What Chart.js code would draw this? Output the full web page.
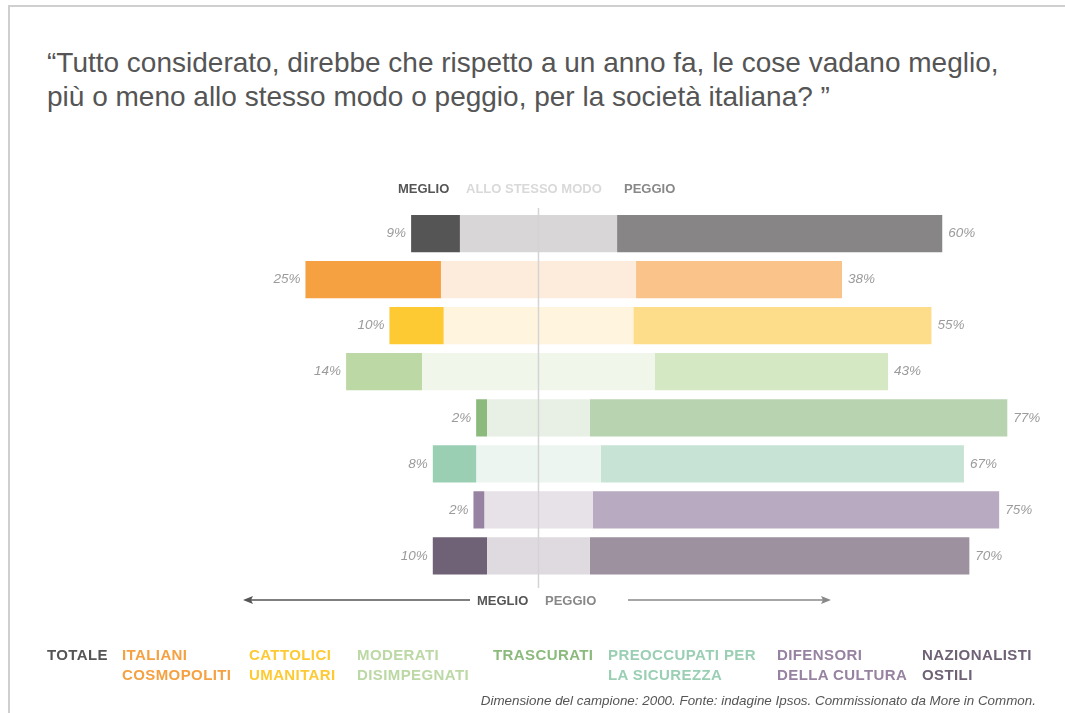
<!DOCTYPE html>
<html>
<head>
<meta charset="utf-8">
<script src="https://cdn.jsdelivr.net/npm/chart.js@4"></script>
<style>
  html, body { margin: 0; padding: 0; background: #fff; overflow: hidden; }
  body { width: 1065px; height: 713px; position: relative; font-family: "Liberation Sans", Arial, Helvetica, sans-serif; }
  #frame { position: absolute; left: 8px; top: 5px; width: 1100px; height: 800px; border-left: 2px solid #cfcfcf; border-top: 2px solid #cfcfcf; }
  #title { position: absolute; left: 47px; top: 46px; font-size: 28px; line-height: 34px; color: #555; white-space: nowrap; }
  #chart { position: absolute; left: 0; top: 0; }
  .leg { position: absolute; top: 645px; font-size: 15px; letter-spacing: 0.4px; line-height: 20px; font-weight: bold; white-space: nowrap; }
  #note { position: absolute; right: 29px; top: 693px; font-size: 13.4px; font-style: italic; color: #555; white-space: nowrap; }
</style>
</head>
<body>
<div id="frame"></div>
<div id="title">“Tutto considerato, direbbe che rispetto a un anno fa, le cose vadano meglio,<br>più o meno allo stesso modo o peggio, per la società italiana? ”</div>
<canvas id="chart" width="1065" height="713"></canvas>
<div id="legend"></div>
<div id="note">Dimensione del campione: 2000. Fonte: indagine Ipsos. Commissionato da More in Common.</div>
<script>
// rows, top to bottom
const categories = ["TOTALE", "ITALIANI\nCOSMOPOLITI", "CATTOLICI\nUMANITARI", "MODERATI\nDISIMPEGNATI",
  "TRASCURATI", "PREOCCUPATI PER\nLA SICUREZZA", "DIFENSORI\nDELLA CULTURA", "NAZIONALISTI\nOSTILI"];
const meglio = [9, 25, 10, 14, 2, 8, 2, 10];
const stesso = [29, 36, 35, 43, 19, 23, 20, 19]; // not labelled
const peggio = [60, 38, 55, 43, 77, 67, 75, 70];

const meglioColors = ["#555555", "#f5a142", "#fdca34", "#bcd8a4", "#8cba7d", "#9bcfb4", "#9783a1", "#6f6176"];
const stessoColors = ["#d8d6d7", "#fdebdc", "#fff4de", "#f1f6eb", "#e8f0e5", "#ecf5f0", "#e7e1e8", "#dfdadf"];
const peggioColors = ["#878586", "#f9c38a", "#fedd8a", "#d5e8c4", "#b8d3b0", "#c7e3d5", "#b8aac0", "#9d909f"];
const legendX = [47, 122, 249, 357, 493, 608, 777, 922];

// legend row under the chart
let legendDiv = document.getElementById("legend");
for (let i = 0; i < categories.length; ++i) {
  let item = document.createElement("div");
  item.className = "leg";
  item.style.left = legendX[i] + "px";
  item.style.color = meglioColors[i];
  item.innerHTML = categories[i].replace("\n", "<br>");
  legendDiv.appendChild(item);
}

// stesso is centred on zero, meglio to the left, peggio to the right
const meglioRange = meglio.map((m, i) => [-stesso[i] / 2 - m, -stesso[i] / 2]);
const stessoRange = stesso.map((s) => [-s / 2, s / 2]);
const peggioRange = peggio.map((p, i) => [stesso[i] / 2, stesso[i] / 2 + p]);

const FONT = '"Liberation Sans", Arial, Helvetica, sans-serif';

function arrow(ctx, x1, x2, y, color) {
  const dir = x2 > x1 ? 1 : -1;
  ctx.strokeStyle = color;
  ctx.fillStyle = color;
  ctx.lineWidth = 1.5;
  ctx.beginPath();
  ctx.moveTo(x1, y);
  ctx.lineTo(x2 - dir * 6, y);
  ctx.stroke();
  ctx.beginPath();
  ctx.moveTo(x2, y);
  ctx.lineTo(x2 - dir * 10, y - 4);
  ctx.lineTo(x2 - dir * 8, y);
  ctx.lineTo(x2 - dir * 10, y + 4);
  ctx.closePath();
  ctx.fill();
}

const decorations = {
  id: "decorations",
  afterDatasetsDraw(chart) {
    const ctx = chart.ctx;
    const x = chart.scales.x;
    const y = chart.scales.y;
    const zero = x.getPixelForValue(0);
    ctx.save();

    // centre line
    ctx.strokeStyle = "#d4d4d4";
    ctx.lineWidth = 1.5;
    ctx.beginPath();
    ctx.moveTo(zero, 208);
    ctx.lineTo(zero, 588);
    ctx.stroke();

    // percent labels
    ctx.font = "italic 13.5px " + FONT;
    ctx.fillStyle = "#9b9b9b";
    ctx.textBaseline = "middle";
    for (let i = 0; i < categories.length; ++i) {
      const yy = y.getPixelForValue(i);
      ctx.textAlign = "right";
      ctx.fillText(meglio[i] + "%", x.getPixelForValue(meglioRange[i][0]) - 5, yy);
      ctx.textAlign = "left";
      ctx.fillText(peggio[i] + "%", x.getPixelForValue(peggioRange[i][1]) + 6, yy);
    }

    // header
    ctx.font = "bold 13px " + FONT;
    ctx.textAlign = "left";
    ctx.fillStyle = "#555555";
    ctx.fillText("MEGLIO", 398, 189);
    ctx.fillStyle = "#d9d9d9";
    ctx.fillText("ALLO STESSO MODO", 466, 189);
    ctx.fillStyle = "#888888";
    ctx.fillText("PEGGIO", 624, 189);

    // bottom arrows
    ctx.fillStyle = "#555555";
    ctx.fillText("MEGLIO", 477, 601);
    ctx.fillStyle = "#888888";
    ctx.fillText("PEGGIO", 545, 601);
    arrow(ctx, 470, 243, 600, "#555555");
    arrow(ctx, 628, 831, 600, "#888888");
    ctx.restore();
  }
};

const data = {
  labels: categories,
  datasets: [
    { label: "Meglio", data: meglioRange, backgroundColor: meglioColors },
    { label: "Allo stesso modo", data: stessoRange, backgroundColor: stessoColors },
    { label: "Peggio", data: peggioRange, backgroundColor: peggioColors }
  ]
};

const config = {
  type: "bar",
  data: data,
  options: {
    indexAxis: "y",
    responsive: false,
    animation: false,
    devicePixelRatio: 1,
    datasets: {
      bar: { grouped: false, categoryPercentage: 1.0, barPercentage: 0.81, borderWidth: 0 }
    },
    layout: { padding: { left: 267.5, right: 0.8, top: 210.5, bottom: 134 } },
    plugins: { legend: { display: false }, tooltip: { enabled: false } },
    scales: {
      x: { min: -50, max: 97, display: false },
      y: { display: false }
    }
  },
  plugins: [decorations]
};

const myChart = new Chart(document.getElementById("chart"), config);
</script>
</body>
</html>
